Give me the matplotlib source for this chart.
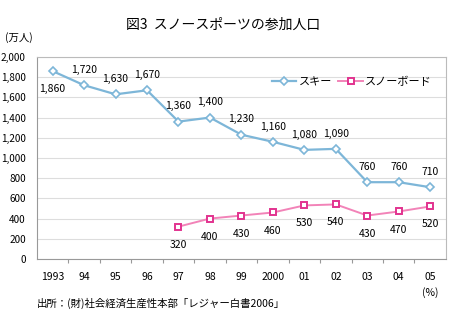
import matplotlib.pyplot as plt

plt.rcParams['font.family'] = ['Noto Sans CJK JP', 'DejaVu Sans']

# 年ごとの参加人口（万人）
years = ['1993', '94', '95', '96', '97', '98', '99', '2000', '01', '02', '03', '04', '05']
ski = [1860, 1720, 1630, 1670, 1360, 1400, 1230, 1160, 1080, 1090, 760, 760, 710]
snowboard = [None, None, None, None, 320, 400, 430, 460, 530, 540, 430, 470, 520]

ski_col = '#7db6d8'
sb_line = '#f283b8'
sb_edge = '#e2338f'

fig = plt.figure(figsize=(4.5, 3.35), dpi=100)
ax = fig.add_axes([0.082, 0.227, 0.909, 0.603])

x = list(range(len(years)))
ax.plot(x, ski, color=ski_col, lw=1.6, marker='D', ms=4.5,
        mfc='white', mec=ski_col, mew=1.2, label='スキー')
sb_x = [i for i, v in enumerate(snowboard) if v is not None]
sb_y = [v for v in snowboard if v is not None]
ax.plot(sb_x, sb_y, color=sb_line, lw=1.4, marker='s', ms=5,
        mfc='white', mec=sb_edge, mew=1.4, label='スノーボード')

# 数値ラベル
for i, v in enumerate(ski):
    dy = -13 if i == 0 else 11
    ax.annotate(f'{v:,}', (i, v), xytext=(0, dy), textcoords='offset points',
                ha='center', va='center', fontsize=7.5)
for i, v in zip(sb_x, sb_y):
    ax.annotate(f'{v:,}', (i, v), xytext=(0, -13), textcoords='offset points',
                ha='center', va='center', fontsize=7.5)

ax.set_xlim(-0.5, len(years) - 0.5)
ax.set_ylim(0, 2000)
ax.set_yticks(range(0, 2001, 200))
ax.set_yticklabels([f'{t:,}' for t in range(0, 2001, 200)], fontsize=7.2)
ax.set_xticks([i + 0.5 for i in range(len(years) - 1)])
ax.set_xticklabels([])
ax.tick_params(axis='x', direction='out', length=3, color='#999999')
ax.tick_params(axis='y', length=0, pad=8)
for i, yr in enumerate(years):
    ax.text(i, -180, yr, ha='center', va='center', fontsize=7.5)
ax.text(len(years) - 1, -330, '(%)', ha='center', va='center', fontsize=7.5)

ax.grid(axis='y', color='#dddddd', lw=0.8)
ax.set_axisbelow(True)
for s in ax.spines.values():
    s.set_color('#bbbbbb')
    s.set_linewidth(0.8)
ax.spines['left'].set_color('#999999')
ax.spines['bottom'].set_color('#999999')

ax.legend(loc='upper right', bbox_to_anchor=(0.99, 0.95), ncol=2, frameon=False,
          fontsize=8, handlelength=2.2, handletextpad=0.2, columnspacing=0.6)

fig.text(0.495, 0.925, '図3  スノースポーツの参加人口', ha='center', va='center', fontsize=10)
fig.text(0.01, 0.888, '(万人)', ha='left', va='center', fontsize=7.5)
fig.text(0.082, 0.095, '出所：(財)社会経済生産性本部「レジャー白書2006」', ha='left', va='center', fontsize=7.5)

fig.savefig('out.png', dpi=100)
